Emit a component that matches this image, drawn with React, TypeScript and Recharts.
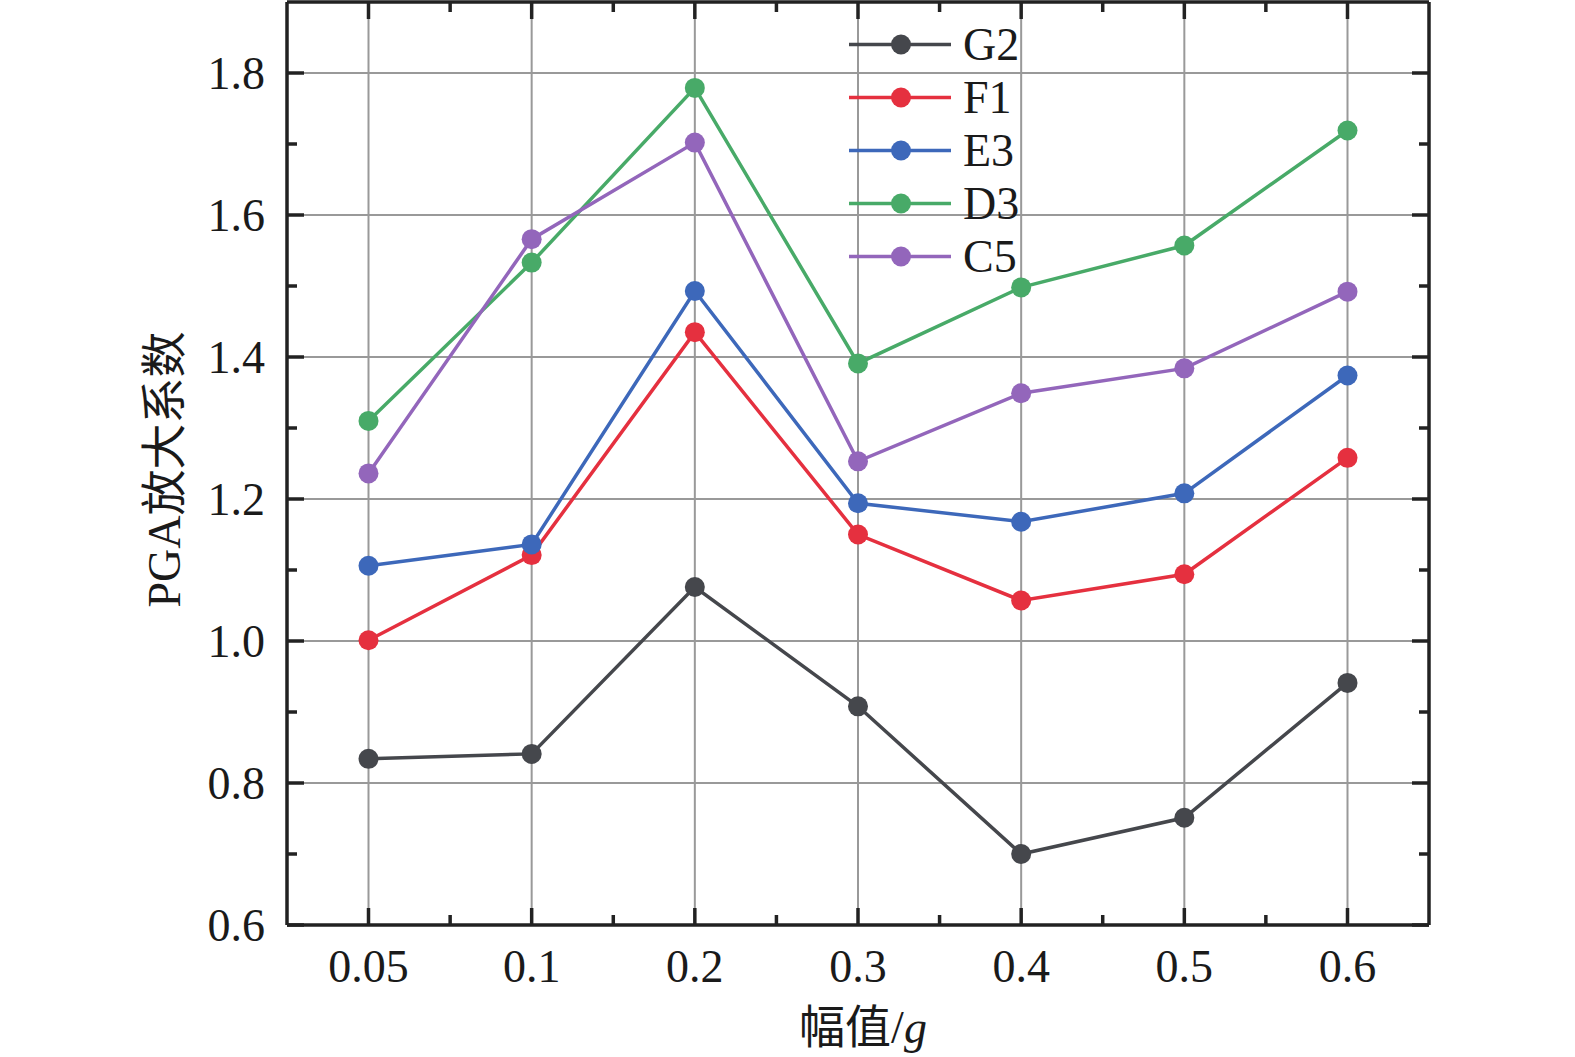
import React from 'react';
import { LineChart, Line, XAxis, YAxis, CartesianGrid } from 'recharts';

const amplitudes = ['0.05', '0.1', '0.2', '0.3', '0.4', '0.5', '0.6'];
const g2 = [0.834, 0.841, 1.076, 0.908, 0.700, 0.751, 0.941];
const f1 = [1.001, 1.121, 1.435, 1.150, 1.057, 1.094, 1.258];
const e3 = [1.106, 1.136, 1.493, 1.194, 1.168, 1.208, 1.374];
const d3 = [1.310, 1.533, 1.779, 1.391, 1.498, 1.557, 1.719];
const c5 = [1.236, 1.566, 1.702, 1.253, 1.349, 1.384, 1.492];

const yMajor = [0.6, 0.8, 1.0, 1.2, 1.4, 1.6, 1.8];
const yMinor = [0.7, 0.9, 1.1, 1.3, 1.5, 1.7];
// minor x ticks sit halfway between categories (index space)
const xMinor = [0.5, 1.5, 2.5, 3.5, 4.5, 5.5];

const seriesList = [
  { key: 'G2', values: g2, color: '#45474c' },
  { key: 'F1', values: f1, color: '#e5303f' },
  { key: 'E3', values: e3, color: '#3d68ba' },
  { key: 'D3', values: d3, color: '#48aa68' },
  { key: 'C5', values: c5, color: '#9366bb' },
];

const data = amplitudes.map((amp, i) => {
  const row: Record<string, string | number> = { amp, idx: i };
  seriesList.forEach((s) => {
    row[s.key] = s.values[i];
  });
  return row;
});

const FONT = '"Liberation Serif", "Times New Roman", "Noto Sans CJK SC", serif';
const AXIS = '#222222';
const DOMAIN: [number, number] = [0.6, 1.9];
const IDX_DOMAIN: [number, number] = [-0.5, amplitudes.length - 0.5];
const PAD = { left: 81.5, right: 81.5 };

// tick lines only, no label
const NoLabel = () => <g />;

const LegendBox = () => (
  <div style={{ position: 'absolute', left: 849, top: 18, fontFamily: FONT }}>
    {seriesList.map((s) => (
      <div key={s.key} style={{ display: 'flex', alignItems: 'center', height: 53 }}>
        <svg width={102} height={53}>
          <line x1={0} x2={102} y1={26.5} y2={26.5} stroke={s.color} strokeWidth={3.5} />
          <circle cx={52} cy={26.5} r={10} fill={s.color} />
        </svg>
        <span style={{ fontSize: 46, marginLeft: 12, color: '#1a1a1a', lineHeight: '53px' }}>{s.key}</span>
      </div>
    ))}
  </div>
);

const YTitle = (props: any) => {
  const vb = props.viewBox || { x: 0, y: 0, width: 287, height: 918 };
  const cx = vb.x + vb.width - 123;
  const cy = vb.y + vb.height / 2 + 6;
  return (
    <text
      x={cx}
      y={cy}
      transform={`rotate(-90, ${cx}, ${cy})`}
      textAnchor="middle"
      dominantBaseline="central"
      fontSize={46}
      fontFamily={FONT}
      fill="#1a1a1a"
    >
      PGA放大系数
    </text>
  );
};

const XTitle = (props: any) => {
  const vb = props.viewBox || { x: 287, y: 920, width: 1142, height: 137 };
  const cx = vb.x + vb.width / 2 + 5;
  const cy = vb.y + 118;
  return (
    <text x={cx} y={cy} textAnchor="middle" fontSize={46} fontFamily={FONT} fill="#1a1a1a">
      幅值/<tspan fontStyle="italic">g</tspan>
    </text>
  );
};

export default function App() {
  const tickStyle = { fontSize: 46, fontFamily: FONT, fill: '#1a1a1a' };
  const tl = { stroke: AXIS, strokeWidth: 3.5 };
  return (
    <div style={{ position: 'absolute', left: 0, top: 0, width: 1575, height: 1057, background: '#fff' }}>
      <LineChart width={1575} height={1057} data={data} margin={{ top: 2, right: 146, bottom: 0, left: 0 }}>
        <CartesianGrid stroke="#999999" strokeWidth={2} horizontalValues={yMajor} />

        {/* labelled axes */}
        <XAxis
          dataKey="amp"
          height={132}
          padding={PAD}
          tickLine={false}
          tickSize={0}
          tickMargin={24}
          axisLine={tl}
          tick={tickStyle}
          interval={0}
          label={<XTitle />}
        />
        <YAxis
          domain={DOMAIN}
          allowDataOverflow
          ticks={yMajor}
          width={287}
          tickLine={false}
          tickSize={0}
          tickMargin={22}
          axisLine={tl}
          tick={tickStyle}
          tickFormatter={(v: number) => v.toFixed(1)}
          label={<YTitle />}
        />

        {/* inward ticks, bottom and top */}
        <XAxis xAxisId="bMaj" dataKey="amp" padding={PAD} orientation="bottom" mirror height={1} tick={NoLabel}
          axisLine={false} tickLine={tl} tickSize={17} interval={0} />
        <XAxis xAxisId="bMin" dataKey="idx" type="number" domain={IDX_DOMAIN} allowDataOverflow ticks={xMinor}
          orientation="bottom" mirror height={1} tick={NoLabel} axisLine={false} tickLine={tl} tickSize={9} interval={0} />
        <XAxis xAxisId="tMaj" dataKey="amp" padding={PAD} orientation="top" mirror height={1} tick={NoLabel}
          axisLine={tl} tickLine={tl} tickSize={17} interval={0} />
        <XAxis xAxisId="tMin" dataKey="idx" type="number" domain={IDX_DOMAIN} allowDataOverflow ticks={xMinor}
          orientation="top" mirror height={1} tick={NoLabel} axisLine={false} tickLine={tl} tickSize={9} interval={0} />

        {/* inward ticks, left and right */}
        <YAxis yAxisId="lMaj" domain={DOMAIN} allowDataOverflow ticks={yMajor} orientation="left" mirror width={1}
          tick={NoLabel} axisLine={false} tickLine={tl} tickSize={17} interval={0} />
        <YAxis yAxisId="lMin" domain={DOMAIN} allowDataOverflow ticks={yMinor} orientation="left" mirror width={1}
          tick={NoLabel} axisLine={false} tickLine={tl} tickSize={9} interval={0} />
        <YAxis yAxisId="rMaj" domain={DOMAIN} allowDataOverflow ticks={yMajor} orientation="right" mirror width={1}
          tick={NoLabel} axisLine={tl} tickLine={tl} tickSize={17} interval={0} />
        <YAxis yAxisId="rMin" domain={DOMAIN} allowDataOverflow ticks={yMinor} orientation="right" mirror width={1}
          tick={NoLabel} axisLine={false} tickLine={tl} tickSize={9} interval={0} />

        {seriesList.map((s) => (
          <Line
            key={s.key}
            dataKey={s.key}
            stroke={s.color}
            strokeWidth={3.5}
            dot={{ r: 10, fill: s.color, stroke: s.color, strokeWidth: 0 }}
            isAnimationActive={false}
          />
        ))}
      </LineChart>
      <LegendBox />
    </div>
  );
}
